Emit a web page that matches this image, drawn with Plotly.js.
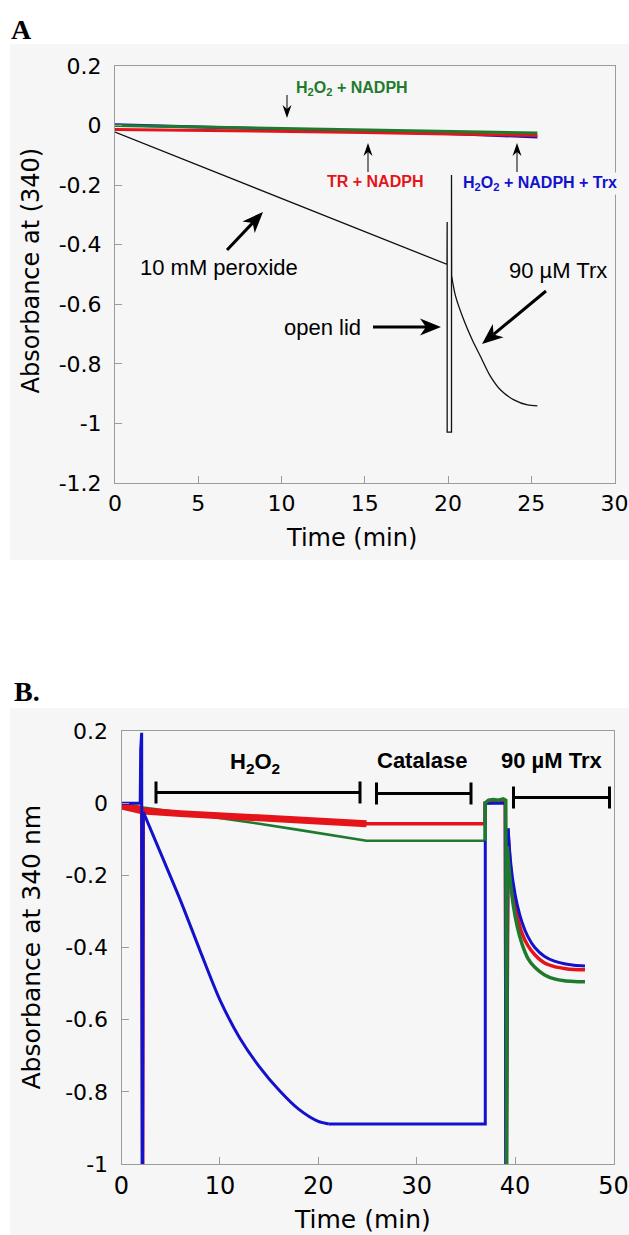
<!DOCTYPE html>
<html>
<head>
<meta charset="utf-8">
<script src="https://cdn.plot.ly/plotly-3.0.1.min.js"></script>
<style>html,body{margin:0;padding:0;background:#fff;}#chart{width:629px;height:1235px;}</style>
</head>
<body>
<div id="chart"></div>
<script>
// ---------------- Panel A data ----------------
const tA = [0, 5, 10, 15, 20, 25.37];
const blueA = [0.003, -0.004, -0.011, -0.019, -0.027, -0.038];
const redA = [-0.013, -0.016, -0.019, -0.023, -0.028, -0.033];
const greenA = [0.0, -0.005, -0.010, -0.015, -0.020, -0.025];
// 10 mM peroxide trace: linear part with the "open lid" excursion, then the Trx decay
const tA_peroxLin = [0, 5, 10, 15, 19.94, 19.95, 19.95, 20.21, 20.21, 20.22];
const vA_peroxLin = [-0.022, -0.133, -0.244, -0.355, -0.466, -0.324, -1.029, -1.029, -0.166, -0.505];
const tA_peroxTrx = [20.22, 20.45, 20.95, 21.46, 21.96, 22.56, 23.16, 23.96, 24.77, 25.37];
const vA_peroxTrx = [-0.505, -0.572, -0.653, -0.720, -0.776, -0.843, -0.888, -0.921, -0.938, -0.941];
const xTicksA = [0, 5, 10, 15, 20, 25, 30];
const xTickTextA = ['0', '5', '10', '15', '20', '25', '30'];
const yTicksA = [-1.2, -1, -0.8, -0.6, -0.4, -0.2, 0, 0.2];
const yTickTextA = ['-1.2', '-1', '-0.8', '-0.6', '-0.4', '-0.2', '0', '0.2'];

// ---------------- Panel B data ----------------
const tB_green1 = [0, 2.2, 6, 10, 14, 18, 22, 24.9, 36.95];
const vB_green1 = [0.0, -0.012, -0.026, -0.041, -0.057, -0.074, -0.091, -0.104, -0.104];
const tB_redNoisy = [0, 2.2, 6, 10, 14, 18, 22, 24.9];
const vB_redNoisy = [-0.008, -0.022, -0.029, -0.035, -0.041, -0.047, -0.052, -0.057];
const tB_redJump = [0, 1.95, 2.05, 2.1, 2.15, 2.2, 24.9, 36.93, 36.95, 39.0, 39.05, 39.1, 39.3];
const vB_redJump = [-0.008, -0.012, -0.015, -1.0, -1.0, -0.022, -0.057, -0.057, 0.0, 0.005, -1.0, -1.0, -0.09];
const tB_redTrx = [39.3, 39.5, 39.8, 40.2, 40.7, 41.3, 42.0, 43.0, 44.0, 45.0, 46.0, 47.1];
const vB_redTrx = [-0.09, -0.17, -0.25, -0.31, -0.36, -0.395, -0.42, -0.443, -0.453, -0.458, -0.461, -0.462];
const tB_blueSpike = [0, 1.9, 1.95, 2.05, 2.1, 2.15, 2.21];
const vB_blueSpike = [0.0, 0.0, 0.15, 0.195, -1.0, -1.0, -0.024];
const tB_blueDecay = [2.21, 4, 6, 8, 10, 12, 14, 16, 18, 20, 21.07];
const vB_blueDecay = [-0.024, -0.14, -0.27, -0.41, -0.545, -0.65, -0.73, -0.795, -0.848, -0.882, -0.889];
const tB_blueJump = [21.07, 36.97, 36.97, 39.0, 39.05, 39.1, 39.29];
const vB_blueJump = [-0.889, -0.889, 0.0, 0.0, -1.0, -1.0, -0.07];
const tB_blueTrx = [39.29, 39.5, 39.8, 40.2, 40.7, 41.3, 42.0, 43.0, 44.0, 45.0, 46.0, 47.1];
const vB_blueTrx = [-0.07, -0.15, -0.22, -0.28, -0.33, -0.37, -0.40, -0.425, -0.438, -0.445, -0.449, -0.451];
const tB_greenJump = [36.95, 36.95, 37.3, 37.8, 38.3, 38.8, 39.05, 39.1, 39.15, 39.2];
const vB_greenJump = [-0.104, 0.0, 0.008, 0.01, 0.008, 0.012, 0.008, -1.0, -1.0, -0.12];
const tB_greenTrx = [39.2, 39.45, 39.8, 40.2, 40.7, 41.3, 42.0, 43.0, 44.0, 45.0, 46.0, 47.1];
const vB_greenTrx = [-0.12, -0.2, -0.28, -0.34, -0.39, -0.43, -0.455, -0.476, -0.487, -0.492, -0.494, -0.495];
const xTicksB = [0, 10, 20, 30, 40, 50];
const xTickTextB = ['0', '10', '20', '30', '40', '50'];
const yTicksB = [-1, -0.8, -0.6, -0.4, -0.2, 0, 0.2];
const yTickTextB = ['-1', '-0.8', '-0.6', '-0.4', '-0.2', '0', '0.2'];

// ---------------- styling ----------------
const W = 629, H = 1235;
const px = x => x / W;
const py = y => 1 - y / H;
const BLUE = '#1212cc', RED = '#e5141a', GREEN = '#1f7a2e';
const AXC = '#9c9c9c';
const BG = '#f6f6f6';
const SANS = 'DejaVu Sans, sans-serif';
const ARIAL = 'Liberation Sans, Arial, sans-serif';
const SERIF = 'Liberation Serif, Times New Roman, serif';

function line(x, y, xa, ya, color, width, smooth) {
  const ln = {color: color, width: width};
  if (smooth) { ln.shape = 'spline'; ln.smoothing = 0.8; }
  return {x: x, y: y, xaxis: xa, yaxis: ya, type: 'scatter', mode: 'lines',
          line: ln, hoverinfo: 'skip', showlegend: false};
}

const data = [
  line(tA_peroxLin, vA_peroxLin, 'x', 'y', '#111', 1.3),
  line(tA_peroxTrx, vA_peroxTrx, 'x', 'y', '#111', 1.3, true),
  line(tA, blueA, 'x', 'y', BLUE, 3),
  line(tA, redA, 'x', 'y', RED, 3),
  line(tA, greenA, 'x', 'y', GREEN, 3),
  line(tB_green1, vB_green1, 'x2', 'y2', GREEN, 2.6),
  line(tB_redNoisy, vB_redNoisy, 'x2', 'y2', RED, 7),
  line(tB_redJump, vB_redJump, 'x2', 'y2', RED, 3.5),
  line(tB_redTrx, vB_redTrx, 'x2', 'y2', RED, 3.5, true),
  line(tB_blueSpike, vB_blueSpike, 'x2', 'y2', BLUE, 3),
  line(tB_blueDecay, vB_blueDecay, 'x2', 'y2', BLUE, 3, true),
  line(tB_blueJump, vB_blueJump, 'x2', 'y2', BLUE, 3),
  line(tB_blueTrx, vB_blueTrx, 'x2', 'y2', BLUE, 3, true),
  line(tB_greenJump, vB_greenJump, 'x2', 'y2', GREEN, 3.5),
  line(tB_greenTrx, vB_greenTrx, 'x2', 'y2', GREEN, 3.5, true)
];

function axis(extra) {
  return Object.assign({
    showline: true, linecolor: AXC, linewidth: 1, mirror: true,
    ticks: 'inside', ticklen: 7, tickcolor: AXC, tickwidth: 1,
    showgrid: false, zeroline: false, tickmode: 'array',
    fixedrange: true
  }, extra);
}

function txt(text, cx, cy, size, family, color, weight, extra) {
  return Object.assign({
    text: text, xref: 'paper', yref: 'paper', x: px(cx), y: py(cy),
    xanchor: 'center', yanchor: 'middle', showarrow: false,
    font: {size: size, family: family, color: color || '#000', weight: weight || 'normal'}
  }, extra || {});
}

const annotations = [
  // panel letters
  txt('A', 21, 29, 28, SERIF, '#000', 'bold'),
  txt('B.', 27, 691, 28, SERIF, '#000', 'bold'),
  // panel A labels
  txt('H<sub>2</sub>O<sub>2</sub> + NADPH', 352, 88, 16, ARIAL, GREEN, 'bold'),
  txt('TR + NADPH', 374.5, 181.5, 16, ARIAL, RED, 'bold'),
  txt('H<sub>2</sub>O<sub>2</sub> + NADPH + Trx', 539.5, 183, 16, ARIAL, BLUE, 'bold', {bgcolor: BG}),
  txt('10 mM peroxide', 218.5, 267.5, 22, ARIAL),
  txt('90 \u00b5M Trx', 558, 270.5, 22, ARIAL),
  txt('open lid', 322, 327, 22, ARIAL),
  txt('Absorbance at (340)', 31, 270.5, 24, SANS, '#000', 'normal', {textangle: -90}),
  txt('Time (min)', 351, 538, 24, SANS),
  // panel B labels
  txt('H<sub>2</sub>O<sub>2</sub>', 255, 763, 22, ARIAL, '#000', 'bold'),
  txt('Catalase', 422, 760.5, 22, ARIAL, '#000', 'bold'),
  txt('90 \u00b5M Trx', 551.7, 760.5, 22, ARIAL, '#000', 'bold'),
  txt('Absorbance at 340 nm', 31, 947.5, 25, SANS, '#000', 'normal', {textangle: -90}),
  txt('Time (min)', 362, 1219, 25, SANS)
];

function seg(x0, y0, x1, y1, w) {
  return {type: 'line', xref: 'paper', yref: 'paper', x0: px(x0), y0: py(y0), x1: px(x1), y1: py(y1),
          line: {color: '#000', width: w}};
}
function bracket(xl, xr, y, half) {
  return [seg(xl, y, xr, y, 3), seg(xl, y - half, xl, y + half, 3), seg(xr, y - half, xr, y + half, 3)];
}
// arrow drawn as a stem plus a notched, filled head (pixel positions converted to paper)
function arrowShapes(tailX, tailY, tipX, tipY, stemW, L, hw, notch) {
  const dx = tipX - tailX, dy = tipY - tailY, len = Math.hypot(dx, dy);
  const ux = dx / len, uy = dy / len, nx = -uy, ny = ux;
  const bx = tipX - L * ux, by = tipY - L * uy;
  const kx = tipX - (L - notch) * ux, ky = tipY - (L - notch) * uy;
  const P = (x, y) => px(x).toFixed(5) + ',' + py(y).toFixed(5);
  const path = 'M' + P(tipX, tipY) + ' L' + P(bx + hw * nx, by + hw * ny) + ' L' + P(kx, ky) +
               ' L' + P(bx - hw * nx, by - hw * ny) + ' Z';
  return [
    seg(tailX, tailY, kx, ky, stemW),
    {type: 'path', xref: 'paper', yref: 'paper', path: path, fillcolor: '#000', line: {width: 0}}
  ];
}

let shapes = [
  {type: 'rect', xref: 'paper', yref: 'paper', x0: px(10), x1: px(629), y0: py(560), y1: py(44),
   fillcolor: BG, line: {width: 0}, layer: 'below'},
  {type: 'rect', xref: 'paper', yref: 'paper', x0: px(10), x1: px(629), y0: py(1235), y1: py(708),
   fillcolor: BG, line: {width: 0}, layer: 'below'}
];
shapes = shapes.concat(
  bracket(156, 360, 792.5, 11), bracket(376.5, 471, 793.5, 11), bracket(513.5, 609.5, 797.5, 11),
  arrowShapes(287, 95, 287, 118, 1, 13, 4.5, 4),
  arrowShapes(368, 172, 368, 143, 1, 13, 4.5, 4),
  arrowShapes(517, 172, 517, 143, 1, 13, 4.5, 4),
  arrowShapes(227, 250, 263, 212, 3, 21, 8.5, 6),
  arrowShapes(546, 291, 482, 344, 3, 21, 8.5, 6),
  arrowShapes(373, 327, 441, 327, 3, 21, 8.5, 6)
);

const tickFontA = {family: SANS, size: 22, color: '#000'};
const layout = {
  width: W, height: H,
  margin: {l: 0, r: 0, t: 0, b: 0, pad: 0},
  paper_bgcolor: '#ffffff', plot_bgcolor: 'rgba(0,0,0,0)',
  showlegend: false,
  xaxis: axis({domain: [px(115), px(614.5)], range: [0, 30], anchor: 'y',
               tickvals: xTicksA, ticktext: xTickTextA, tickfont: tickFontA, ticklabelstandoff: 1}),
  yaxis: axis({domain: [py(483), py(66)], range: [-1.2, 0.2], anchor: 'x',
               tickvals: yTicksA, ticktext: yTickTextA, tickfont: tickFontA, ticklabelstandoff: 8}),
  xaxis2: axis({domain: [px(121.5), px(613.5)], range: [0, 50], anchor: 'y2',
                tickvals: xTicksB, ticktext: xTickTextB, tickfont: {family: SANS, size: 24, color: '#000'}, ticklabelstandoff: 0}),
  yaxis2: axis({domain: [py(1164), py(731)], range: [-1, 0.2], anchor: 'x2',
                tickvals: yTicksB, ticktext: yTickTextB, tickfont: tickFontA, ticklabelstandoff: 8}),
  annotations: annotations,
  shapes: shapes
};

Plotly.newPlot('chart', data, layout, {staticPlot: true, displayModeBar: false});
</script>
</body>
</html>
